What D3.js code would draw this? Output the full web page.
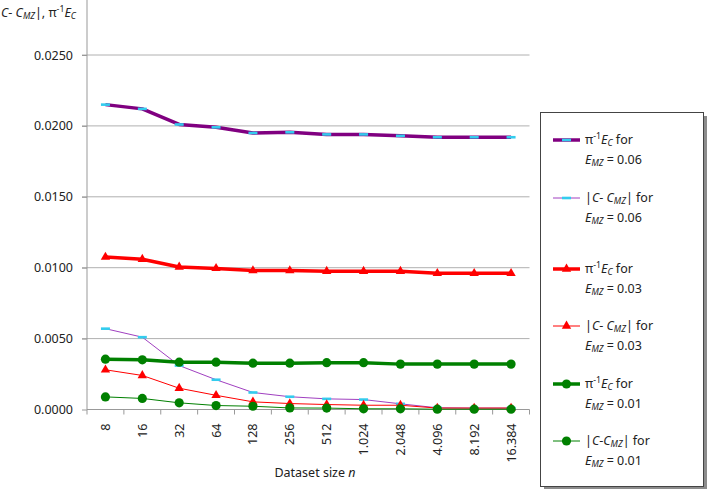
<!DOCTYPE html>
<html>
<head>
<meta charset="utf-8">
<script src="https://cdn.jsdelivr.net/npm/d3@7"></script>
<style>
  body { margin: 0; background: #fff; }
  text { font-family: "Noto Sans", "Open Sans", sans-serif; fill: #222; }
</style>
</head>
<body>
<svg id="chart" width="716" height="489"></svg>
<script>
const sizes = ["8", "16", "32", "64", "128", "256", "512", "1.024", "2.048", "4.096", "8.192", "16.384"];
const yTicks = [0, 0.005, 0.01, 0.015, 0.02, 0.025];

const ec06 = [0.0215, 0.0212, 0.0201, 0.0199, 0.0195, 0.01955, 0.0194, 0.0194, 0.0193, 0.0192, 0.0192, 0.0192];
const diff06 = [0.0057, 0.0051, 0.0031, 0.0021, 0.0012, 0.0009, 0.00075, 0.0007, 0.0004, 0.00012, 0.0001, 0.0001];
const ec03 = [0.01075, 0.0106, 0.01005, 0.00995, 0.0098, 0.0098, 0.00975, 0.00975, 0.00975, 0.0096, 0.0096, 0.0096];
const diff03 = [0.0028, 0.0024, 0.0015, 0.001, 0.00054, 0.00042, 0.00035, 0.0003, 0.0003, 0.0001, 0.0001, 0.0001];
const ec01 = [0.00355, 0.0035, 0.00334, 0.00334, 0.00327, 0.00327, 0.0033, 0.0033, 0.0032, 0.0032, 0.0032, 0.0032];
const diff01 = [0.00089, 0.00078, 0.00047, 0.00028, 0.00023, 0.00011, 0.0001, 0.00005, 0.00005, 0.00002, 0.00002, 0.00002];

const series = [
  { values: ec06, color: "#800080", width: 3.5, marker: "dash", mz: "0.06", kind: "ec" },
  { values: diff06, color: "#a040c0", width: 1, marker: "dash", mz: "0.06", kind: "diff" },
  { values: ec03, color: "#ff0000", width: 3.5, marker: "tri", mz: "0.03", kind: "ec" },
  { values: diff03, color: "#ff0000", width: 1, marker: "tri", mz: "0.03", kind: "diff" },
  { values: ec01, color: "#008000", width: 3.5, marker: "dot", mz: "0.01", kind: "ec" },
  { values: diff01, color: "#008000", width: 1, marker: "dot", mz: "0.01", kind: "diff2" }
];

const svg = d3.select("#chart");

const x = d3.scaleBand().domain(sizes).range([87, 529.5]);
const y = d3.scaleLinear().domain([0, 0.025]).range([409.5, 55]);

// gridlines
svg.append("g")
  .selectAll("line")
  .data(yTicks.slice(1))
  .enter()
  .append("line")
  .attr("x1", 82)
  .attr("x2", 529.5)
  .attr("y1", d => y(d))
  .attr("y2", d => y(d))
  .attr("stroke", "#b0b0b0")
  .attr("stroke-width", 1);

// y axis
const yAxis = svg.append("g")
  .attr("transform", "translate(87,0)")
  .call(d3.axisLeft(y).tickValues(yTicks).tickFormat(d3.format(".4f")).tickSize(5).tickSizeOuter(0));
yAxis.select(".domain").remove();
yAxis.append("line").attr("x1", 0).attr("x2", 0).attr("y1", 0).attr("y2", 409.5).attr("stroke", "#999");
yAxis.selectAll(".tick line").attr("stroke", "#999");
yAxis.selectAll(".tick text").attr("font-size", "12.5px").attr("fill", "#222").attr("x", -14);

// x axis
const xAxis = svg.append("g")
  .attr("transform", "translate(0,409.5)");
xAxis.append("line").attr("x1", 87).attr("x2", 529.5).attr("stroke", "#999");
xAxis.selectAll(".xt")
  .data(sizes.concat([null]))
  .enter()
  .append("line")
  .attr("x1", (d, i) => i < sizes.length ? x(d) : x.range()[1])
  .attr("x2", (d, i) => i < sizes.length ? x(d) : x.range()[1])
  .attr("y1", 0)
  .attr("y2", 5)
  .attr("stroke", "#999");
xAxis.selectAll(".xl")
  .data(sizes)
  .enter()
  .append("text")
  .attr("transform", d => `translate(${x(d) + x.bandwidth() / 2 + 4.5},14) rotate(-90)`)
  .attr("text-anchor", "end")
  .attr("font-size", "12.5px")
  .text(d => d);

svg.append("text")
  .attr("x", 315)
  .attr("y", 477)
  .attr("text-anchor", "middle")
  .attr("font-size", "12.5px")
  .call(t => {
    t.append("tspan").text("Dataset size ");
    t.append("tspan").attr("font-style", "italic").text("n");
  });

// rich text helper: parts [text, style] style: "" | "i" | "sub" | "sup"
function rich(t, parts, fs) {
  let off = 0;
  parts.forEach(([txt, st]) => {
    const sp = t.append("tspan").text(txt);
    let target = 0;
    if (st.includes("sub")) target = fs * 0.18;
    if (st.includes("sup")) target = -fs * 0.4;
    if (target !== off) { sp.attr("dy", target - off); off = target; }
    if (st.includes("sub") || st.includes("sup")) sp.attr("font-size", fs * 0.7 + "px");
    if (st.includes("i")) sp.attr("font-style", "italic");
  });
}

// y axis title (cut at the left edge, as in the source)
svg.append("text")
  .attr("x", 76)
  .attr("y", 17)
  .attr("text-anchor", "end")
  .attr("font-size", "12.5px")
  .call(t => rich(t, [["|", ""], ["C", "i"], ["- ", ""], ["C", "i"], ["MZ", "i sub"], ["|, π", ""], ["-1", "sup"], ["E", "i"], ["C", "i sub"]], 12.5));

// lines and markers
const line = d3.line()
  .x((d, i) => x(sizes[i]) + x.bandwidth() / 2)
  .y(d => y(d));

function drawMarker(g, s, cx, cy) {
  if (s.marker === "dash") {
    g.append("rect").attr("x", cx - 4.5).attr("y", cy - 1.3).attr("width", 9).attr("height", 2.6).attr("fill", "#33ccee");
  } else if (s.marker === "tri") {
    g.append("path").attr("transform", `translate(${cx},${cy})`)
      .attr("d", d3.symbol(d3.symbolTriangle, 38)()).attr("fill", "#ff0000");
  } else {
    g.append("circle").attr("cx", cx).attr("cy", cy).attr("r", 4.6).attr("fill", "#008000");
  }
}

series.forEach(s => {
  const g = svg.append("g");
  g.append("path")
    .datum(s.values)
    .attr("fill", "none")
    .attr("stroke", s.color)
    .attr("stroke-width", s.width)
    .attr("stroke-linejoin", "round")
    .attr("d", line);
  s.values.forEach((v, i) => drawMarker(g, s, x(sizes[i]) + x.bandwidth() / 2, y(v)));
});

// legend
const legendRows = [140, 198, 269, 326, 384, 441];
const lg = svg.append("g");
lg.append("rect").attr("x", 544).attr("y", 116).attr("width", 163).attr("height", 375).attr("fill", "#8c8c8c");
lg.append("rect").attr("x", 540.5).attr("y", 112.5).attr("width", 163).attr("height", 374).attr("fill", "#fff").attr("stroke", "#444").attr("stroke-width", 1);

series.forEach((s, i) => {
  const ly = legendRows[i];
  lg.append("line").attr("x1", 553).attr("x2", 580).attr("y1", ly).attr("y2", ly)
    .attr("stroke", s.color).attr("stroke-width", s.width);
  drawMarker(lg, s, 566.5, ly);
  const t1 = lg.append("text").attr("x", 585).attr("y", ly + 4).attr("font-size", "12.5px");
  if (s.kind === "ec") {
    rich(t1, [["π", ""], ["-1", "sup"], ["E", "i"], ["C", "i sub"], [" for", ""]], 12.5);
  } else if (s.kind === "diff") {
    rich(t1, [["|", ""], ["C", "i"], ["- ", ""], ["C", "i"], ["MZ", "i sub"], ["| for", ""]], 12.5);
  } else {
    rich(t1, [["|", ""], ["C", "i"], ["-", ""], ["C", "i"], ["MZ", "i sub"], ["| for", ""]], 12.5);
  }
  const t2 = lg.append("text").attr("x", 585).attr("y", ly + 24).attr("font-size", "12.5px");
  rich(t2, [["E", "i"], ["MZ", "i sub"], [" = " + s.mz, ""]], 12.5);
});
</script>
</body>
</html>
